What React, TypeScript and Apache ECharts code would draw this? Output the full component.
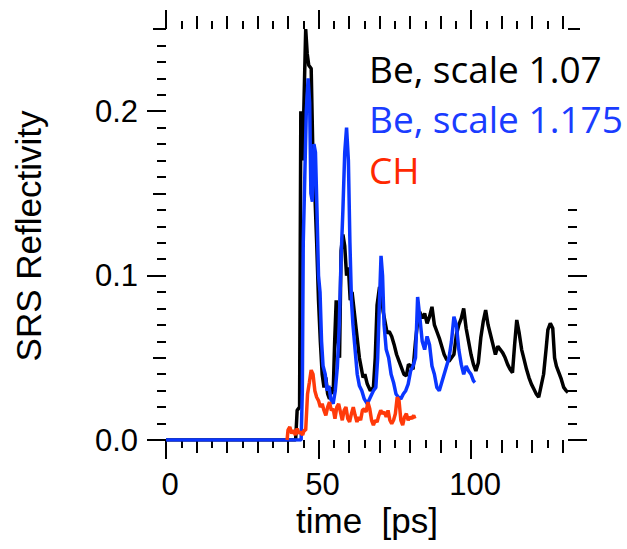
import React, { useEffect, useRef } from "react";
import * as echarts from "echarts";

// time [ps] , SRS reflectivity
const beScale107: [number, number][] = [
  [0, 0], [42.5, 0], [43, 0.018], [43.8, 0.02], [44.2, 0.2], [44.8, 0.17], [45.3, 0.21], [45.8, 0.25],
  [46.3, 0.235], [46.8, 0.228], [47.6, 0.226], [48.2, 0.17], [48.8, 0.15], [49.4, 0.12], [50, 0.085],
  [50.6, 0.06], [51.2, 0.04], [51.8, 0.032], [52.4, 0.038], [53, 0.028], [53.6, 0.025], [54.2, 0.032],
  [54.8, 0.028], [55.3, 0.06], [55.8, 0.085], [56.4, 0.06], [56.9, 0.05], [57.4, 0.115], [58, 0.125],
  [58.6, 0.118], [59.2, 0.1], [59.8, 0.105], [60.4, 0.085], [61, 0.09], [61.6, 0.08], [62.2, 0.07],
  [62.8, 0.06], [63.4, 0.05], [64, 0.044], [64.6, 0.038], [65.2, 0.04], [66, 0.034], [67, 0.03],
  [68, 0.032], [68.6, 0.05], [69.2, 0.082], [70, 0.093], [70.6, 0.09], [71.2, 0.078], [71.8, 0.072],
  [72.5, 0.065], [73.2, 0.066], [74, 0.063], [74.8, 0.058], [75.6, 0.052], [76.4, 0.048], [77.2, 0.044],
  [78, 0.04], [78.8, 0.039], [79.5, 0.046], [80.3, 0.045], [81, 0.043], [81.8, 0.06], [82.5, 0.072],
  [83.2, 0.078], [84, 0.074], [84.8, 0.077], [85.6, 0.071], [86.4, 0.075], [87.2, 0.081], [88, 0.07],
  [88.8, 0.066], [89.6, 0.062], [90.4, 0.057], [91.2, 0.052], [92, 0.049], [92.8, 0.048], [93.6, 0.05],
  [94.4, 0.052], [95.2, 0.064], [96, 0.07], [96.8, 0.074], [97.6, 0.08], [98.4, 0.068], [99.2, 0.06],
  [100, 0.052], [100.8, 0.046], [101.6, 0.042], [102.4, 0.047], [103.2, 0.062], [104, 0.072],
  [104.8, 0.079], [105.6, 0.07], [106.4, 0.064], [107.2, 0.058], [108, 0.052], [108.8, 0.057],
  [109.6, 0.055], [110.4, 0.053], [111.2, 0.05], [112, 0.046], [112.8, 0.043], [113.6, 0.041],
  [114.3, 0.058], [115, 0.073], [115.8, 0.065], [116.6, 0.055], [117.4, 0.049], [118.2, 0.043],
  [119, 0.038], [119.8, 0.034], [120.6, 0.031], [121.4, 0.028], [122.2, 0.026], [123, 0.033],
  [123.8, 0.04], [124.6, 0.055], [125.2, 0.067], [126, 0.071], [126.8, 0.068], [127.4, 0.05],
  [128, 0.045], [128.8, 0.041], [129.6, 0.037], [130.4, 0.032], [131.2, 0.03], [131.8, 0.029],
];

const beScale1175: [number, number][] = [
  [0, 0], [44.3, 0], [44.7, 0.03], [45, 0.12], [45.5, 0.16], [46, 0.2], [46.6, 0.22], [47.1, 0.205],
  [47.5, 0.15], [48, 0.145], [48.5, 0.18], [49, 0.175], [49.5, 0.14], [50, 0.1], [50.5, 0.09],
  [51, 0.06], [51.5, 0.045], [52.2, 0.04], [52.8, 0.03], [53.4, 0.033], [54, 0.025], [54.8, 0.022],
  [55.5, 0.03], [56.2, 0.045], [56.8, 0.07], [57.4, 0.11], [58, 0.14], [58.6, 0.175], [59.2, 0.19],
  [59.8, 0.17], [60.3, 0.12], [60.8, 0.085], [61.3, 0.07], [62, 0.055], [62.7, 0.04], [63.4, 0.033],
  [64.2, 0.03], [65, 0.025], [66, 0.022], [67, 0.026], [68, 0.03], [68.8, 0.032], [69.4, 0.05],
  [70, 0.085], [70.5, 0.112], [71, 0.1], [71.5, 0.07], [72.2, 0.055], [73, 0.05], [73.8, 0.04],
  [74.6, 0.035], [75.4, 0.028], [76.2, 0.026], [77, 0.025], [77.8, 0.028], [78.6, 0.03], [79.4, 0.034],
  [80.2, 0.042], [81, 0.045], [81.8, 0.05], [82.5, 0.087], [83.2, 0.075], [84, 0.06], [84.8, 0.055],
  [85.6, 0.063], [86.4, 0.058], [87.2, 0.045], [88, 0.04], [88.8, 0.032], [89.6, 0.03], [90.4, 0.035],
  [91.2, 0.04], [92, 0.045], [92.8, 0.05], [93.6, 0.06], [94.4, 0.075], [95.2, 0.07], [96, 0.055],
  [96.8, 0.046], [97.6, 0.04], [98.4, 0.045], [99.2, 0.042], [100, 0.04], [100.8, 0.036], [101.3, 0.035],
];

const chData: [number, number][] = [
  [39.7, 0], [40, 0.006], [40.6, 0.008], [41.2, 0.004], [41.8, 0.006], [42.4, 0.003], [43, 0.007],
  [43.6, 0.004], [44.2, 0.005], [44.8, 0.003], [45.3, 0.006], [45.8, 0.006], [46.4, 0.028], [47, 0.035],
  [47.6, 0.0425], [48.2, 0.04], [48.8, 0.03], [49.4, 0.026], [50, 0.024], [50.6, 0.02], [51.2, 0.022],
  [51.8, 0.018], [52.4, 0.015], [53, 0.02], [53.6, 0.023], [54.2, 0.018], [54.8, 0.019], [55.4, 0.013],
  [56, 0.02], [56.6, 0.022], [57.2, 0.017], [57.8, 0.012], [58.4, 0.018], [59, 0.02], [59.6, 0.013],
  [60.2, 0.011], [60.8, 0.016], [61.4, 0.02], [62, 0.015], [62.6, 0.011], [63.2, 0.014], [63.8, 0.012],
  [64.4, 0.018], [65, 0.019], [65.6, 0.017], [66.2, 0.023], [66.8, 0.019], [67.4, 0.012], [68, 0.009],
  [68.6, 0.012], [69.2, 0.011], [69.8, 0.015], [70.4, 0.018], [71, 0.016], [71.6, 0.017], [72.2, 0.014],
  [72.8, 0.018], [73.4, 0.012], [74, 0.01], [74.6, 0.012], [75.2, 0.016], [75.8, 0.026], [76.4, 0.024],
  [77, 0.012], [77.6, 0.009], [78.2, 0.014], [78.8, 0.016], [79.4, 0.012], [80, 0.014], [80.6, 0.013],
  [81.2, 0.015], [81.6, 0.013],
];

const seriesNames = ["Be, scale 1.07", "Be, scale 1.175", "CH"];

const xLabelTicks = [0, 50, 100];
const xMediumTicks = [10, 20, 30, 40, 60, 70, 80, 90, 110, 120, 130];
const xMinorTicks = [5, 15, 25, 35, 45, 55, 65, 75, 85, 95, 105, 115, 125];

const yLabelTicks = [0, 0.1, 0.2];
const yMediumTicks = [0.05, 0.15, 0.25];
const yMinorTicks = [
  0.01, 0.02, 0.03, 0.04, 0.06, 0.07, 0.08, 0.09, 0.11, 0.12, 0.13, 0.14,
  0.16, 0.17, 0.18, 0.19, 0.21, 0.22, 0.23, 0.24,
];
const yRightMajorTicks = [0, 0.1];
const yRightMediumTicks = [0.05, 0.25];
const yRightMinorTicks = [0.01, 0.02, 0.03, 0.04, 0.06, 0.07, 0.08, 0.09, 0.11, 0.12, 0.13, 0.14];

const X_MIN = 0;
const X_MAX = 131.8;
const Y_MIN = 0;
const Y_MAX = 0.25;

const TICK_FONT = "Liberation Sans";

function xAxisDef(position: string, ticks: number[], len: number, labels: boolean) {
  return {
    type: "value",
    position,
    min: X_MIN,
    max: X_MAX,
    axisLine: { show: false, onZero: false },
    splitLine: { show: false },
    axisTick: { show: true, customValues: ticks, length: len, lineStyle: { color: "#000", width: 2 } },
    axisLabel: labels
      ? {
          show: true,
          customValues: ticks,
          formatter: (v: number) => String(v),
          fontFamily: TICK_FONT,
          fontSize: 31,
          color: "#000",
          margin: 29,
          padding: [0, 0, 0, 8],
        }
      : { show: false },
  };
}

function yAxisDef(position: string, ticks: number[], len: number, labels: boolean) {
  return {
    type: "value",
    position,
    min: Y_MIN,
    max: Y_MAX,
    axisLine: { show: false, onZero: false },
    splitLine: { show: false },
    axisTick: { show: true, customValues: ticks, length: len, lineStyle: { color: "#000", width: 2 } },
    axisLabel: labels
      ? {
          show: true,
          customValues: ticks,
          formatter: (v: number) => v.toFixed(1),
          fontFamily: TICK_FONT,
          fontSize: 31,
          color: "#000",
          margin: 28,
          padding: [8, 0, 0, 0],
        }
      : { show: false },
  };
}

export default function App() {
  const ref = useRef<HTMLDivElement>(null);
  useEffect(() => {
    if (!ref.current) return;
    const chart = echarts.init(ref.current, null, { renderer: "svg" });
    const option: any = {
      animation: false,
      backgroundColor: "#fff",
      grid: { left: 166, right: 59, top: 29, bottom: 109, containLabel: false, outerBoundsMode: "none" },
      xAxis: [
        xAxisDef("bottom", xLabelTicks, 19, true),
        xAxisDef("bottom", xMediumTicks, 13, false),
        xAxisDef("bottom", xMinorTicks, 8, false),
        xAxisDef("top", xLabelTicks, 19, false),
        xAxisDef("top", xMediumTicks, 13, false),
        xAxisDef("top", xMinorTicks, 8, false),
      ],
      yAxis: [
        yAxisDef("left", yLabelTicks, 19, true),
        yAxisDef("left", yMediumTicks, 13, false),
        yAxisDef("left", yMinorTicks, 9, false),
        yAxisDef("right", yRightMajorTicks, 19, false),
        yAxisDef("right", yRightMediumTicks, 12, false),
        yAxisDef("right", yRightMinorTicks, 9, false),
      ],
      series: [
        {
          name: seriesNames[0], type: "line", data: beScale107, showSymbol: false, symbol: "none",
          lineStyle: { color: "#000000", width: 3.5 }, itemStyle: { color: "#000" }, z: 2,
        },
        {
          name: seriesNames[1], type: "line", data: beScale1175, showSymbol: false, symbol: "none",
          lineStyle: { color: "#0a36ff", width: 3.5 }, itemStyle: { color: "#0a36ff" }, z: 3,
        },
        {
          name: seriesNames[2], type: "line", data: chData, showSymbol: false, symbol: "none",
          lineStyle: { color: "#ff3a0a", width: 3.5 }, itemStyle: { color: "#ff3a0a" }, z: 4,
        },
      ],
      graphic: [
        {
          type: "text", x: 369, y: 68,
          style: { text: seriesNames[0], fill: "#000", fontSize: 37, fontFamily: "Open Sans", align: "left", verticalAlign: "middle" },
        },
        {
          type: "text", x: 369, y: 118,
          style: { text: seriesNames[1], fill: "#1a3cff", fontSize: 37, fontFamily: "Open Sans", align: "left", verticalAlign: "middle" },
        },
        {
          type: "text", x: 369, y: 169,
          style: { text: seriesNames[2], fill: "#ff2800", fontSize: 37, fontFamily: "Open Sans", align: "left", verticalAlign: "middle" },
        },
        {
          type: "text", x: 28, y: 236, rotation: Math.PI / 2,
          style: { text: "SRS Reflectivity", fill: "#000", fontSize: 35, fontFamily: TICK_FONT, align: "center", verticalAlign: "middle" },
        },
        {
          type: "text", x: 367, y: 520,
          style: { text: "time  [ps]", fill: "#000", fontSize: 35, fontFamily: TICK_FONT, align: "center", verticalAlign: "middle" },
        },
      ],
    };
    chart.setOption(option);
    return () => chart.dispose();
  }, []);
  return (
    <div
      ref={ref}
      style={{ position: "fixed", left: 0, top: 0, width: 627, height: 549, background: "#fff" }}
    />
  );
}
